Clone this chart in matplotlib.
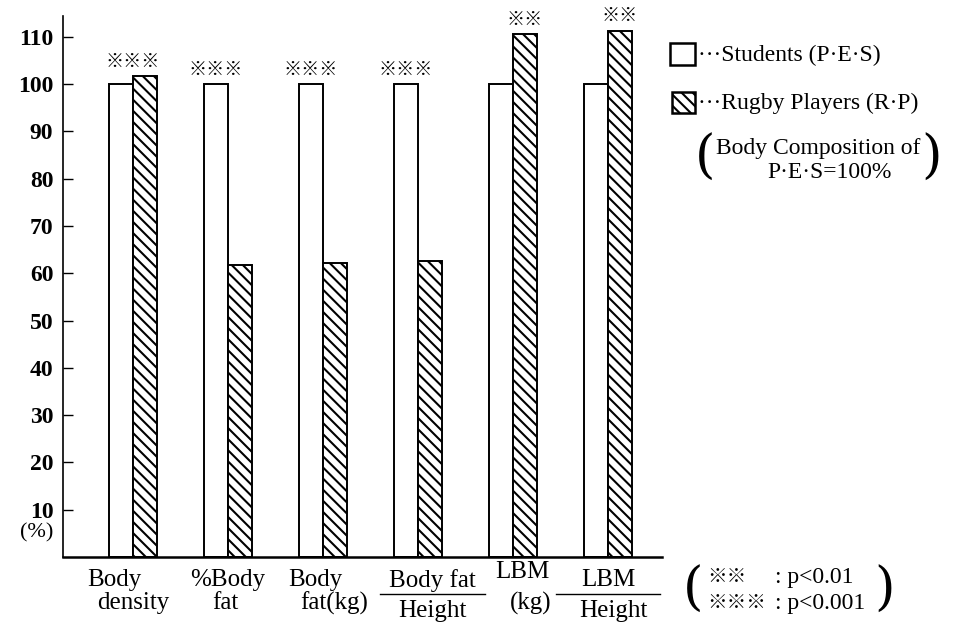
import matplotlib.pyplot as plt
from matplotlib.patches import Rectangle
from matplotlib.transforms import blended_transform_factory

plt.rcParams['font.family'] = ['Liberation Serif', 'Noto Sans CJK JP']
plt.rcParams['hatch.linewidth'] = 1.5

# body composition, P.E.S = 100 %
students = [100, 100, 100, 100, 100, 100]
rugby = [101.7, 61.8, 62.2, 62.6, 110.5, 111.3]
signif = ['※※※', '※※※', '※※※', '※※※', '※※', '※※']
label_top = ['Body', '%Body', 'Body', 'Body fat', 'LBM', 'LBM']
label_bottom = ['density', 'fat', 'fat(kg)', 'Height', '(kg)', 'Height']
ratio = [False, False, False, True, False, True]
yticks = [10, 20, 30, 40, 50, 60, 70, 80, 90, 100, 110]

W, H = 955, 622


def px(x, y):
    # pixel position -> figure fraction
    return x / W, 1 - y / H


fig = plt.figure(figsize=(9.55, 6.22), dpi=100)
ax = fig.add_axes([63 / W, 65 / H, 599 / W, 541 / H])

bw = 0.25
xs = list(range(len(students)))
ax.bar([x - bw / 2 for x in xs], students, width=bw, color='white',
       edgecolor='black', linewidth=1.4)
ax.bar([x + bw / 2 for x in xs], rugby, width=bw, color='white',
       edgecolor='black', linewidth=1.4, hatch='\\\\\\')

# significance marks
mark_shift = [0, -bw / 2, -bw / 2, -bw / 2, bw / 2, bw / 2]
for i, m in enumerate(signif):
    top = max(students[i], rugby[i])
    ax.annotate(m, (i + mark_shift[i], top), xytext=(0, 4),
                textcoords='offset points', ha='center', va='bottom',
                fontsize=13, fontweight='bold', annotation_clip=False)

ax.set_xlim(-0.737, 5.568)
ax.set_ylim(0, 114.4)
ax.set_yticks(yticks)
ax.set_yticklabels([str(t) for t in yticks], fontsize=17, fontweight='bold')
ax.set_xticks([])
ax.tick_params(axis='y', direction='in', length=7, width=1, pad=7)
for s in ['top', 'right']:
    ax.spines[s].set_visible(False)
ax.spines['left'].set_linewidth(1.2)
ax.spines['bottom'].set_linewidth(1.8)

# category labels under the axis
trans = blended_transform_factory(ax.transData, ax.transAxes)
top_dx = [-0.195, 0.0, -0.08, 0.15, 0.10, 0.0]
bot_dx = [0.0, -0.03, 0.12, 0.15, 0.19, 0.06]
for i in xs:
    if ratio[i]:
        ax.text(i + top_dx[i], -0.043, label_top[i], transform=trans,
                ha='center', va='center', fontsize=18)
        ax.plot([i + top_dx[i] - 0.55, i + top_dx[i] + 0.55], [-0.068, -0.068],
                transform=trans, color='black', lw=1, clip_on=False)
        ax.text(i + bot_dx[i], -0.100, label_bottom[i], transform=trans,
                ha='center', va='center', fontsize=18)
    else:
        y0 = -0.028 if label_top[i] == 'LBM' else -0.043
        ax.text(i + top_dx[i], y0, label_top[i], transform=trans,
                ha='center', va='center', fontsize=18)
        ax.text(i + bot_dx[i], -0.085, label_bottom[i], transform=trans,
                ha='center', va='center', fontsize=18)

fig.text(*px(53, 533), '(%)', ha='right', va='center', fontsize=16)

# legend
x0, y0 = px(670, 65)
fig.patches.append(Rectangle((x0, y0), 25 / W, 22 / H, transform=fig.transFigure,
                             facecolor='white', edgecolor='black', lw=1.8))
x0, y0 = px(672, 113)
fig.patches.append(Rectangle((x0, y0), 23 / W, 21 / H, transform=fig.transFigure,
                             facecolor='white', edgecolor='black', lw=1.8,
                             hatch='\\\\\\'))
fig.text(*px(698, 55), '···Students (P·E·S)', ha='left', va='center', fontsize=17)
fig.text(*px(698, 103), '···Rugby Players (R·P)', ha='left', va='center', fontsize=17)
fig.text(*px(695, 158), '(', ha='left', va='center', fontsize=38, fontweight='light',
         family='DejaVu Serif')
fig.text(*px(942, 158), ')', ha='right', va='center', fontsize=38, family='DejaVu Serif')
fig.text(*px(818, 149), 'Body Composition of', ha='center', va='center', fontsize=17)
fig.text(*px(830, 172), 'P·E·S=100%', ha='center', va='center', fontsize=17)

# significance key
fig.text(*px(683, 590), '(', ha='left', va='center', fontsize=38, family='DejaVu Serif')
fig.text(*px(895, 590), ')', ha='right', va='center', fontsize=38, family='DejaVu Serif')
fig.text(*px(707, 577), '※※', ha='left', va='center', fontsize=14)
fig.text(*px(775, 577), ': p<0.01', ha='left', va='center', fontsize=17)
fig.text(*px(707, 603), '※※※', ha='left', va='center', fontsize=14)
fig.text(*px(775, 603), ': p<0.001', ha='left', va='center', fontsize=17)

fig.savefig('out.png', dpi=100)
